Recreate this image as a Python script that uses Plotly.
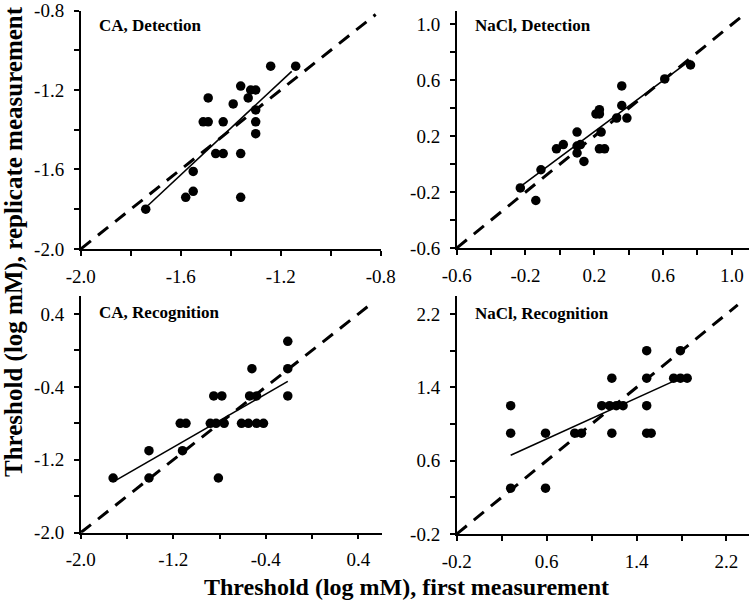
import plotly.graph_objects as go

W, H = 750, 604
FONT = "Liberation Serif"

# ---------------- data ----------------
ca_det_x = [-1.74, -1.58, -1.55, -1.55, -1.51, -1.49, -1.49, -1.46, -1.43, -1.43, -1.39,
            -1.36, -1.36, -1.36, -1.33, -1.32, -1.30, -1.30, -1.30, -1.30, -1.24, -1.14]
ca_det_y = [-1.80, -1.74, -1.71, -1.61, -1.36, -1.36, -1.24, -1.52, -1.36, -1.52, -1.27,
            -1.18, -1.52, -1.74, -1.24, -1.20, -1.20, -1.30, -1.36, -1.42, -1.08, -1.08]
ca_det_fit_x = [-1.73, -1.156]
ca_det_fit_y = [-1.78, -1.106]

nacl_det_x = [-0.23, -0.14, -0.11, -0.02, 0.02, 0.10, 0.10, 0.10, 0.12, 0.14, 0.21,
              0.23, 0.23, 0.24, 0.23, 0.26, 0.33, 0.36, 0.36, 0.39, 0.61, 0.76]
nacl_det_y = [-0.17, -0.26, -0.04, 0.11, 0.14, 0.23, 0.13, 0.08, 0.14, 0.02, 0.36,
              0.39, 0.36, 0.23, 0.11, 0.11, 0.33, 0.56, 0.42, 0.33, 0.61, 0.71]
nacl_det_fit_x = [-0.23, 0.76]
nacl_det_fit_y = [-0.16, 0.745]

ca_rec_x = [-1.72, -1.41, -1.41, -1.14, -1.09, -1.12, -0.88, -0.83, -0.76, -0.85, -0.78,
            -0.81, -0.61, -0.55, -0.48, -0.42, -0.54, -0.48, -0.52, -0.21, -0.21, -0.21]
ca_rec_y = [-1.4, -1.1, -1.4, -0.8, -0.8, -1.1, -0.8, -0.8, -0.8, -0.5, -0.5,
            -1.4, -0.8, -0.8, -0.8, -0.8, -0.5, -0.5, -0.2, 0.1, -0.2, -0.5]
ca_rec_fit_x = [-1.69, -0.21]
ca_rec_fit_y = [-1.42, -0.34]

nacl_rec_x = [0.28, 0.28, 0.28, 0.59, 0.59, 0.85, 0.91, 1.09, 1.16, 1.22, 1.28,
              1.18, 1.18, 1.49, 1.49, 1.49, 1.49, 1.53, 1.73, 1.79, 1.85, 1.79]
nacl_rec_y = [1.2, 0.9, 0.3, 0.9, 0.3, 0.9, 0.9, 1.2, 1.2, 1.2, 1.2,
              1.5, 0.9, 1.8, 1.5, 1.2, 0.9, 0.9, 1.5, 1.5, 1.5, 1.8]
nacl_rec_fit_x = [0.28, 1.77]
nacl_rec_fit_y = [0.66, 1.49]

# identity (dashed) line extents
ident_1 = [-2.0, -0.82]
ident_2 = [-0.6, 1.07]
ident_3 = [-2.0, 0.50]
ident_4 = [-0.2, 2.30]

# axis ranges / ticks
range_1 = [-2.0, -0.8]
ticks_1 = [-2.0, -1.8, -1.6, -1.4, -1.2, -1.0, -0.8]
labels_1 = ["-2.0", "", "-1.6", "", "-1.2", "", "-0.8"]

range_2 = [-0.6, 1.1]
ticks_2 = [-0.6, -0.4, -0.2, 0.0, 0.2, 0.4, 0.6, 0.8, 1.0]
labels_2 = ["-0.6", "", "-0.2", "", "0.2", "", "0.6", "", "1.0"]

range_3 = [-2.0, 0.6]
ticks_3 = [-2.0, -1.6, -1.2, -0.8, -0.4, 0.0, 0.4]
labels_3 = ["-2.0", "", "-1.2", "", "-0.4", "", "0.4"]

range_4 = [-0.2, 2.4]
ticks_4 = [-0.2, 0.2, 0.6, 1.0, 1.4, 1.8, 2.2]
labels_4 = ["-0.2", "", "0.6", "", "1.4", "", "2.2"]

panel_titles = ["CA, Detection", "NaCl, Detection", "CA, Recognition", "NaCl, Recognition"]
x_title = "Threshold (log mM), first measurement"
y_title = "Threshold (log mM), replicate measurement"

# ---------------- figure ----------------
fig = go.Figure()

panels = [
    (ca_det_x, ca_det_y, ca_det_fit_x, ca_det_fit_y, ident_1, range_1, ticks_1, labels_1),
    (nacl_det_x, nacl_det_y, nacl_det_fit_x, nacl_det_fit_y, ident_2, range_2, ticks_2, labels_2),
    (ca_rec_x, ca_rec_y, ca_rec_fit_x, ca_rec_fit_y, ident_3, range_3, ticks_3, labels_3),
    (nacl_rec_x, nacl_rec_y, nacl_rec_fit_x, nacl_rec_fit_y, ident_4, range_4, ticks_4, labels_4),
]

# pixel boxes (left, right, top, bottom)
boxes = [
    (80.7, 380.7, 10.5, 249.0),
    (456.7, 749.0, 10.5, 248.0),
    (80.7, 381.5, 295.7, 532.7),
    (456.7, 749.0, 295.7, 534.0),
]

layout_axes = {}
for i, (px, py, fx, fy, ident, rng, tv, tt) in enumerate(panels):
    n = i + 1
    xa = "x" if n == 1 else f"x{n}"
    ya = "y" if n == 1 else f"y{n}"
    fig.add_trace(go.Scatter(x=ident, y=ident, mode="lines", xaxis=xa, yaxis=ya,
                             line=dict(color="black", width=3, dash="13px,9px"),
                             showlegend=False, hoverinfo="skip"))
    fig.add_trace(go.Scatter(x=fx, y=fy, mode="lines", xaxis=xa, yaxis=ya,
                             line=dict(color="black", width=1.6),
                             showlegend=False, hoverinfo="skip"))
    fig.add_trace(go.Scatter(x=px, y=py, mode="markers", xaxis=xa, yaxis=ya,
                             marker=dict(color="black", size=9.5, line=dict(width=0)),
                             showlegend=False, cliponaxis=False))
    l, r, t, b = boxes[i]
    lo, hi = rng
    eps = (hi - lo) * 1e-4
    common = dict(range=[lo - eps, hi + eps], tickvals=tv, ticktext=tt, showgrid=False,
                  zeroline=False, showline=True, linecolor="black", linewidth=1.5,
                  ticks="outside", ticklen=5, tickwidth=1.5, tickcolor="black",
                  ticklabeloverflow="allow", automargin=False,
                  tickfont=dict(family=FONT, size=19, color="black"))
    layout_axes["xaxis" if n == 1 else f"xaxis{n}"] = dict(
        domain=[l / W, r / W], anchor=ya, ticklabelstandoff=4, **common)
    layout_axes["yaxis" if n == 1 else f"yaxis{n}"] = dict(
        domain=[1 - b / H, 1 - t / H], anchor=xa, ticklabelstandoff=6, **common)

fig.update_layout(**layout_axes)

annotations = []
label_pos = [(97, 25), (473, 25), (97, 312), (473, 313)]
for (lx, ly), txt in zip(label_pos, panel_titles):
    annotations.append(dict(x=lx / W, y=1 - ly / H, xref="paper", yref="paper",
                            text=f"<b>{txt}</b>", showarrow=False, xanchor="left",
                            yanchor="middle",
                            font=dict(family=FONT, size=17, color="black")))
annotations.append(dict(x=406 / W, y=1 - 587 / H, xref="paper", yref="paper",
                        text=f"<b>{x_title}</b>", showarrow=False, xanchor="center",
                        yanchor="middle", font=dict(family=FONT, size=24, color="black")))
annotations.append(dict(x=14 / W, y=1 - 242 / H, xref="paper", yref="paper",
                        text=f"<b>{y_title}</b>", showarrow=False, xanchor="center",
                        yanchor="middle", textangle=-90,
                        font=dict(family=FONT, size=25, color="black")))

fig.update_layout(width=W, height=H, margin=dict(l=0, r=0, t=0, b=0, autoexpand=False),
                  paper_bgcolor="white", plot_bgcolor="white",
                  annotations=annotations, showlegend=False)

fig.write_html("out.html",
               config={"displayModeBar": False},
               post_script="document.body.style.margin='0px';"
                           "document.body.style.overflow='hidden';")
